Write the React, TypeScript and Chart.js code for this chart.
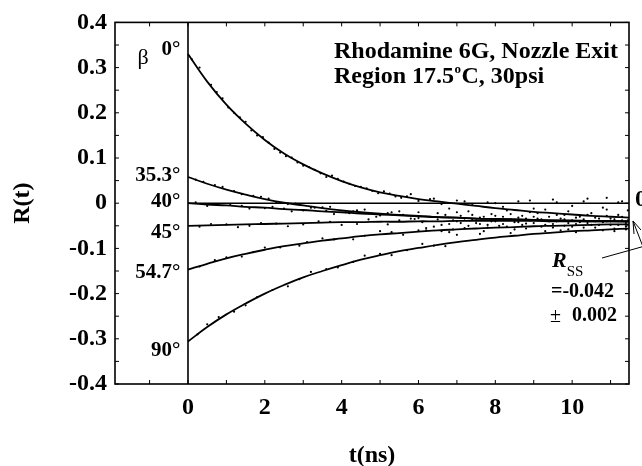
import React, { useEffect, useRef } from 'react';
import { Chart, registerables } from 'chart.js';

Chart.register(...registerables);

// time grid of the fitted curves (ns)
const tGrid = [0, 0.5, 1, 1.5, 2, 2.5, 3, 3.5, 4, 4.5, 5, 5.5, 6, 6.5, 7, 7.5, 8, 8.5, 9, 9.5, 10, 10.5, 11, 11.5];

// fitted R(t) curves
const fit0 = [0.330, 0.269, 0.218, 0.176, 0.140, 0.110, 0.086, 0.066, 0.049, 0.035, 0.024, 0.016, 0.009, 0.004, -0.001, -0.006, -0.011, -0.015, -0.019, -0.022, -0.025, -0.028, -0.030, -0.032];
const fit353 = [0.058, 0.043, 0.030, 0.019, 0.009, 0.001, -0.005, -0.011, -0.016, -0.020, -0.023, -0.026, -0.028, -0.031, -0.032, -0.034, -0.035, -0.036, -0.037, -0.038, -0.038, -0.039, -0.039, -0.040];
const fit40 = [0.000, -0.003, -0.005, -0.008, -0.010, -0.013, -0.015, -0.018, -0.020, -0.023, -0.025, -0.027, -0.029, -0.031, -0.032, -0.034, -0.035, -0.036, -0.037, -0.038, -0.039, -0.040, -0.040, -0.041];
const fit45 = [-0.050, -0.049, -0.048, -0.047, -0.046, -0.045, -0.044, -0.043, -0.042, -0.042, -0.041, -0.041, -0.040, -0.040, -0.039, -0.039, -0.039, -0.039, -0.039, -0.040, -0.040, -0.040, -0.040, -0.040];
const fit547 = [-0.147, -0.134, -0.122, -0.112, -0.103, -0.095, -0.089, -0.083, -0.078, -0.073, -0.069, -0.066, -0.063, -0.060, -0.058, -0.056, -0.054, -0.053, -0.051, -0.050, -0.049, -0.048, -0.047, -0.047];
const fit90 = [-0.306, -0.274, -0.246, -0.222, -0.200, -0.181, -0.164, -0.150, -0.137, -0.125, -0.115, -0.106, -0.099, -0.092, -0.086, -0.081, -0.076, -0.072, -0.068, -0.065, -0.062, -0.060, -0.058, -0.056];

const dots0: [number, number][] = [
  [0.1, 0.318], [0.3, 0.300], [0.6, 0.262], [0.75, 0.246], [0.9, 0.232], [1.05, 0.212], [1.2, 0.200], [1.35, 0.190], [1.5, 0.180],
  [1.65, 0.161], [1.8, 0.150], [1.95, 0.146], [2.1, 0.134], [2.25, 0.120], [2.4, 0.112], [2.55, 0.104], [2.7, 0.101], [2.85, 0.090],
  [3.0, 0.083], [3.15, 0.080], [3.3, 0.074], [3.45, 0.066], [3.6, 0.058], [3.75, 0.061], [3.9, 0.054], [4.05, 0.048], [4.2, 0.043],
  [4.35, 0.038], [4.5, 0.036], [4.65, 0.033], [4.8, 0.027], [4.95, 0.022], [5.1, 0.026], [5.25, 0.021], [5.4, 0.015], [5.55, 0.012],
  [5.7, 0.015], [6.0, 0.005], [6.3, 0.009], [6.6, -0.002], [7.0, 0.006], [7.4, -0.004], [7.8, 0.002], [8.2, -0.008], [8.6, 0.004],
  [9.0, -0.012], [9.5, 0.008], [10.0, -0.006], [10.4, 0.010], [10.9, -0.014], [11.3, 0.004],
];
const dots353: [number, number][] = [
  [0.2, 0.052], [0.4, 0.047], [0.7, 0.040], [0.9, 0.036], [1.2, 0.027], [1.4, 0.020], [1.7, 0.016], [1.9, 0.014], [2.1, 0.010],
  [2.3, 0.002], [2.6, -0.002], [2.8, -0.001], [3.2, -0.010], [3.5, -0.009], [3.7, -0.008], [4.1, -0.020], [4.3, -0.018],
  [4.6, -0.014], [5.0, -0.027], [5.2, -0.022], [5.5, -0.018], [6.0, -0.033],
];
const dots40: [number, number][] = [
  [0.2, 0.002], [0.5, -0.006], [0.8, -0.004], [1.1, -0.002], [1.4, -0.006], [1.6, -0.012], [2.0, -0.011], [2.2, -0.008],
  [2.5, -0.012], [2.7, -0.018], [3.0, -0.016], [3.3, -0.010], [3.6, -0.017], [3.8, -0.024], [4.2, -0.022], [4.4, -0.016],
  [4.7, -0.022], [4.9, -0.030], [5.3, -0.020], [5.6, -0.026], [5.8, -0.034],
];
const dots45: [number, number][] = [
  [0.3, -0.052], [0.6, -0.046], [1.0, -0.047], [1.3, -0.053], [1.6, -0.050], [1.9, -0.044], [2.3, -0.045], [2.6, -0.051],
  [3.0, -0.047], [3.4, -0.040], [3.7, -0.041], [4.0, -0.048], [4.4, -0.046], [4.7, -0.036], [5.2, -0.047], [5.5, -0.038], [5.9, -0.035],
];
const dots547: [number, number][] = [
  [0.3, -0.140], [0.7, -0.126], [1.0, -0.120], [1.4, -0.118], [1.7, -0.108], [2.0, -0.098], [2.4, -0.098], [2.9, -0.094],
  [3.1, -0.086], [3.5, -0.078], [3.8, -0.080], [4.3, -0.080], [4.6, -0.072], [5.0, -0.062], [5.3, -0.064], [5.6, -0.070],
  [6.0, -0.060], [6.2, -0.055], [6.6, -0.062],
];
const dots90: [number, number][] = [
  [0.25, -0.290], [0.5, -0.268], [0.8, -0.252], [1.2, -0.240], [1.5, -0.226], [1.8, -0.208], [2.2, -0.192], [2.6, -0.184],
  [2.9, -0.168], [3.2, -0.152], [3.6, -0.146], [3.9, -0.142], [4.3, -0.130], [4.6, -0.116], [5.0, -0.112], [5.3, -0.115],
  [5.7, -0.104], [6.1, -0.090], [6.4, -0.094], [6.7, -0.095],
];
const dotsTail: [number, number][] = [
  [6.5, -0.022], [6.6, -0.048], [6.8, -0.012], [6.9, -0.038], [7.1, -0.028], [7.2, -0.055], [7.3, -0.018], [7.5, -0.044],
  [7.6, -0.032], [7.7, -0.062], [7.9, -0.024], [8.0, -0.040], [8.1, -0.050], [8.3, -0.016], [8.4, -0.036], [8.5, -0.058],
  [8.7, -0.028], [8.8, -0.045], [8.9, -0.020], [9.1, -0.034], [9.2, -0.052], [9.3, -0.014], [9.4, -0.040], [9.6, -0.026],
  [9.7, -0.060], [9.8, -0.036], [9.9, -0.018], [10.1, -0.046], [10.2, -0.030], [10.3, -0.054], [10.5, -0.022], [10.6, -0.040],
  [10.7, -0.048], [10.8, -0.010], [11.0, -0.034], [11.1, -0.056], [11.2, -0.026], [11.4, -0.044], [11.45, -0.016],
  [7.0, -0.040], [7.8, -0.048], [8.6, -0.042], [9.0, -0.030], [9.5, -0.046], [10.0, -0.038], [10.4, -0.044], [10.9, -0.040],
  [11.3, -0.038], [8.2, -0.030], [9.8, -0.050], [11.0, -0.048], [7.4, -0.036], [8.8, -0.034], [10.6, -0.032], [6.2, -0.060],
  [6.8, -0.064], [7.6, -0.068],
  [6.0, -0.020], [6.1, -0.042], [6.3, -0.030], [6.4, -0.052], [6.5, -0.036], [6.7, -0.026], [6.8, -0.046], [6.9, -0.058],
  [7.0, -0.020], [7.1, -0.044], [7.2, -0.034], [7.3, -0.050], [7.4, -0.026], [7.5, -0.038], [7.6, -0.046], [7.7, -0.030],
  [7.8, -0.054], [7.9, -0.040], [8.0, -0.028], [8.1, -0.036], [8.2, -0.046], [8.3, -0.052], [8.4, -0.024], [8.5, -0.042],
  [8.6, -0.032], [8.7, -0.048], [8.8, -0.056], [8.9, -0.038], [9.0, -0.044], [9.1, -0.022], [9.2, -0.036], [9.3, -0.048],
  [9.4, -0.030], [9.5, -0.054], [9.6, -0.040], [9.7, -0.034], [9.8, -0.026], [9.9, -0.044], [10.0, -0.052], [10.1, -0.032],
  [10.2, -0.042], [10.3, -0.036], [10.4, -0.026], [10.5, -0.048], [10.6, -0.054], [10.7, -0.034], [10.8, -0.042], [10.9, -0.028],
  [11.0, -0.040], [11.1, -0.036], [11.2, -0.048], [11.3, -0.030], [11.4, -0.052], [11.45, -0.038],
  [7.2, 0.004], [8.0, 0.000], [8.9, 0.006], [9.6, 0.002], [10.3, 0.004], [10.9, 0.012], [11.2, 0.002], [6.4, 0.010], [5.8, 0.020],
  [7.0, -0.070], [8.4, -0.066], [9.3, -0.062], [10.1, -0.064], [11.1, -0.062], [9.9, -0.058], [10.8, -0.060], [11.4, -0.058],
];

const xTickValues = [0, 2, 4, 6, 8, 10];
const xTickLabels = ['0', '2', '4', '6', '8', '10'];
const yTickValues = [-0.4, -0.3, -0.2, -0.1, 0, 0.1, 0.2, 0.3, 0.4];
const yTickLabels = ['-0.4', '-0.3', '-0.2', '-0.1', '0', '0.1', '0.2', '0.3', '0.4'];

const angleLabels = ['0°', '35.3°', '40°', '45°', '54.7°', '90°'];
const angleLabelR = [0.339, 0.062, 0.003, -0.065, -0.154, -0.325];

const SERIF = '"Liberation Serif", "Times New Roman", serif';

const fits = [fit0, fit353, fit40, fit45, fit547, fit90];
const dotGroups = [dots0, dots353, dots40, dots45, dots547, dots90, dotsTail];

const decor = {
  id: 'decor',
  afterDraw(chart: any) {
    const { ctx, chartArea: a, scales } = chart;
    const xs = scales.x;
    const ys = scales.y;
    ctx.save();
    ctx.strokeStyle = '#000';
    ctx.fillStyle = '#000';
    // frame
    ctx.lineWidth = 1.6;
    ctx.strokeRect(a.left, a.top, a.right - a.left, a.bottom - a.top);
    // zero lines
    const x0 = xs.getPixelForValue(0);
    const y0 = ys.getPixelForValue(0);
    ctx.beginPath();
    ctx.moveTo(x0, a.top);
    ctx.lineTo(x0, a.bottom);
    ctx.moveTo(x0, y0);
    ctx.lineTo(a.right, y0);
    ctx.stroke();
    // inward ticks
    ctx.lineWidth = 1;
    ctx.beginPath();
    for (let t = -1; t <= 11; t++) {
      const px = xs.getPixelForValue(t);
      ctx.moveTo(px, a.bottom);
      ctx.lineTo(px, a.bottom - 4);
      ctx.moveTo(px, a.top);
      ctx.lineTo(px, a.top + 4);
    }
    for (let k = -8; k <= 8; k++) {
      const py = ys.getPixelForValue(k * 0.05);
      ctx.moveTo(a.left, py);
      ctx.lineTo(a.left + 4, py);
      ctx.moveTo(a.right, py);
      ctx.lineTo(a.right - 4, py);
    }
    ctx.stroke();

    ctx.textBaseline = 'middle';
    // angle labels
    ctx.font = `bold 21px ${SERIF}`;
    ctx.textAlign = 'right';
    const lx = xs.getPixelForValue(-0.2);
    angleLabels.forEach((s, i) => {
      ctx.fillText(s, lx, ys.getPixelForValue(angleLabelR[i]));
    });
    // beta
    ctx.font = `22px ${SERIF}`;
    ctx.textAlign = 'center';
    ctx.fillText('β', 143, 58);

    // title block
    ctx.textAlign = 'left';
    ctx.font = `bold 24px ${SERIF}`;
    ctx.fillText('Rhodamine 6G, Nozzle Exit', 334, 52);
    let x = 334;
    const p1 = 'Region 17.5';
    ctx.fillText(p1, x, 77);
    x += ctx.measureText(p1).width;
    ctx.font = `bold 13px ${SERIF}`;
    ctx.fillText('o', x + 0.5, 70);
    x += ctx.measureText('o').width + 1;
    ctx.font = `bold 24px ${SERIF}`;
    ctx.fillText('C, 30psi', x, 77);

    // R_ss annotation
    ctx.font = `italic bold 22px ${SERIF}`;
    ctx.fillText('R', 552, 261);
    const rw = ctx.measureText('R').width;
    ctx.font = `15px ${SERIF}`;
    ctx.fillText('SS', 552 + rw, 272);
    ctx.font = `bold 20px ${SERIF}`;
    ctx.fillText('=-0.042', 551, 292);
    ctx.font = `20px ${SERIF}`;
    ctx.fillText('±', 550, 317);
    ctx.font = `bold 20px ${SERIF}`;
    ctx.fillText('0.002', 572, 316);

    // cut-off label at right edge
    ctx.font = `bold 24px ${SERIF}`;
    ctx.fillText('0', 635, 200);

    // arrow
    ctx.lineWidth = 1;
    ctx.beginPath();
    ctx.moveTo(602, 258);
    ctx.lineTo(645, 246);
    ctx.moveTo(645, 252);
    ctx.lineTo(633, 221);
    ctx.moveTo(633, 221);
    ctx.lineTo(634, 234);
    ctx.moveTo(633, 221);
    ctx.lineTo(641, 230);
    ctx.stroke();
    ctx.restore();
  },
};

export default function App() {
  const ref = useRef<HTMLCanvasElement | null>(null);
  useEffect(() => {
    document.body.style.margin = '0';
    const canvas = ref.current;
    if (!canvas) return;
    const lineSets = fits.map((arr) => ({
      type: 'line' as const,
      data: tGrid.map((t, i) => ({ x: t, y: arr[i] })),
      borderColor: '#000',
      borderWidth: 1.8,
      pointRadius: 0,
      tension: 0.4,
      fill: false,
    }));
    const dotSets = dotGroups.map((g) => ({
      type: 'scatter' as const,
      data: g.map(([t, r]) => ({ x: t, y: r })),
      backgroundColor: '#000',
      borderColor: '#000',
      pointRadius: 1.1,
      borderWidth: 0,
    }));
    const chart = new Chart(canvas, {
      type: 'line',
      data: { datasets: [...lineSets, ...dotSets] as any },
      options: {
        responsive: false,
        animation: false,
        maintainAspectRatio: false,
        layout: { padding: { top: 19, right: 13, bottom: 0, left: 0 } },
        plugins: { legend: { display: false }, tooltip: { enabled: false } },
        scales: {
          x: {
            type: 'linear',
            min: -1.9,
            max: 11.48,
            grid: { display: false, drawTicks: false },
            border: { display: false },
            afterBuildTicks: (s: any) => {
              s.ticks = xTickValues.map((v) => ({ value: v }));
            },
            afterFit: (s: any) => {
              s.height = 82;
            },
            ticks: {
              color: '#000',
              padding: 9,
              autoSkip: false,
              maxRotation: 0,
              font: { family: SERIF, size: 24, weight: 'bold' },
              callback: (_v: any, i: number) => xTickLabels[i],
            },
            title: {
              display: true,
              text: 't(ns)',
              color: '#000',
              padding: { top: 0, bottom: -2 },
              font: { family: SERIF, size: 24, weight: 'bold', lineHeight: 1 },
            },
          },
          y: {
            type: 'linear',
            min: -0.4,
            max: 0.4,
            grid: { display: false, drawTicks: false },
            border: { display: false },
            afterBuildTicks: (s: any) => {
              s.ticks = yTickValues.map((v) => ({ value: v }));
            },
            afterFit: (s: any) => {
              s.width = 115;
            },
            ticks: {
              color: '#000',
              padding: 8,
              autoSkip: false,
              font: { family: SERIF, size: 24, weight: 'bold' },
              callback: (_v: any, i: number) => yTickLabels[i],
            },
            title: {
              display: true,
              text: 'R(t)',
              color: '#000',
              padding: { top: 11, bottom: 0 },
              font: { family: SERIF, size: 24, weight: 'bold', lineHeight: 1 },
            },
          },
        },
      },
      plugins: [decor],
    });
    return () => chart.destroy();
  }, []);
  return (
    <div style={{ width: 642, height: 466 }}>
      <canvas ref={ref} width={642} height={466} style={{ display: 'block' }} />
    </div>
  );
}
